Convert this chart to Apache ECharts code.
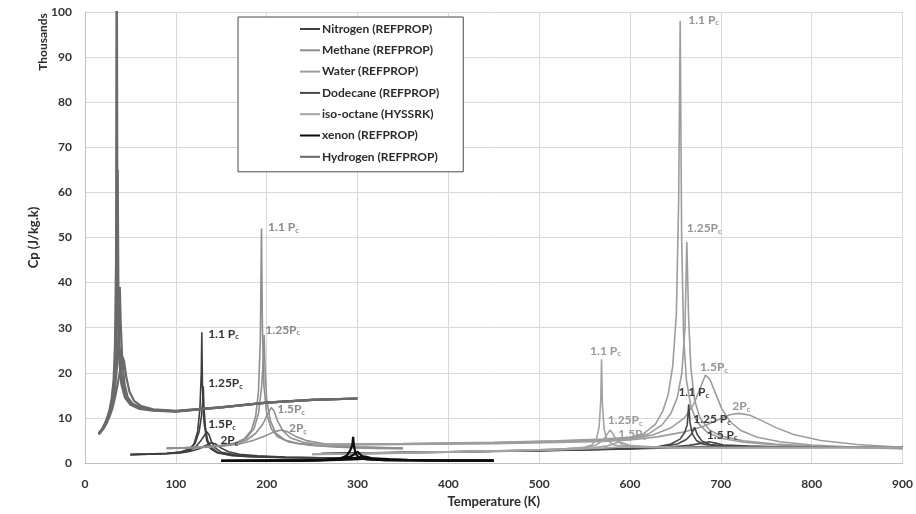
<!DOCTYPE html>
<html>
<head>
<meta charset="utf-8">
<script src="https://cdn.jsdelivr.net/npm/echarts@6/dist/echarts.min.js"></script>
<style>html,body{margin:0;padding:0;background:#fff;}#chart{width:916px;height:514px;}</style>
</head>
<body>
<div id="chart"></div>
<script>
// ---- Data (Temperature K, Cp in thousands J/kg.K) ----
const fluidNames = ['Nitrogen (REFPROP)','Methane (REFPROP)','Water (REFPROP)','Dodecane (REFPROP)','iso-octane (HYSSRK)','xenon (REFPROP)','Hydrogen (REFPROP)'];
const xTicks = [0,100,200,300,400,500,600,700,800,900];
const yTicks = [0,10,20,30,40,50,60,70,80,90,100];

const n2_110 = [[50,1.9],[70,2.0],[90,2.15],[105,2.45],[115,3.1],[120,4.2],[124,7],[126.5,12],[128,20],[128.6,29],[129.3,17],[131,9],[134,5],[138,3.2],[145,2.3],[160,1.7],[180,1.4],[220,1.2],[260,1.12],[300,1.08]];
const n2_125 = [[50,1.88],[70,1.98],[90,2.12],[105,2.4],[115,3],[121,4.3],[125.5,6.8],[128.3,10.5],[129.5,13.5],[130.2,17],[130.9,12.5],[132.5,8],[135,5],[139,3.4],[146,2.4],[160,1.75],[180,1.45],[220,1.22],[260,1.13],[300,1.09]];
const n2_150 = [[50,1.86],[70,1.96],[90,2.1],[105,2.35],[115,2.8],[122,3.6],[127,4.8],[131,6],[134,6.9],[136.5,6.3],[139,4.8],[143,3.4],[150,2.4],[165,1.8],[185,1.5],[220,1.26],[260,1.15],[300,1.1]];
const n2_200 = [[50,1.84],[70,1.94],[90,2.05],[105,2.25],[115,2.55],[125,3.1],[133,3.9],[139,4.5],[144,4.2],[150,3.3],[158,2.5],[170,1.95],[190,1.6],[220,1.33],[260,1.18],[300,1.12]];

const ch4_110 = [[90,3.3],[110,3.4],[130,3.6],[150,3.9],[165,4.4],[175,5.3],[183,7.2],[188,10.5],[191,16],[193,27],[194.3,52],[195.3,30],[197,17],[200,11],[205,7.6],[212,5.8],[225,4.6],[250,3.9],[280,3.5],[320,3.25],[350,3.15]];
const ch4_125 = [[90,3.27],[110,3.37],[130,3.55],[150,3.85],[165,4.3],[177,5.4],[186,7.6],[191,11],[194.5,17],[196.3,23],[197.2,28.4],[198.2,21],[200,14],[204,9.4],[210,6.6],[220,5.1],[235,4.3],[260,3.8],[300,3.4],[350,3.2]];
const ch4_150 = [[90,3.24],[110,3.34],[130,3.5],[150,3.8],[165,4.2],[178,5.1],[188,6.6],[196,8.7],[201,10.8],[205,12.3],[208,11.6],[212,9.3],[218,7.1],[226,5.6],[240,4.6],[260,4],[300,3.5],[350,3.25]];
const ch4_200 = [[90,3.2],[110,3.3],[130,3.45],[150,3.7],[170,4.2],[185,5],[198,6],[208,6.9],[216,7.3],[223,6.9],[232,5.9],[245,4.9],[265,4.2],[300,3.6],[350,3.3]];

const h2o_110 = [[250,4.15],[350,4.3],[450,4.6],[520,4.95],[570,5.3],[600,5.7],[615,6.5],[628,8.6],[636,11.5],[642,15.2],[647,21.5],[651,33],[653.5,58],[655.2,98],[656.8,50],[659,28],[662,18.5],[667,12.5],[674,9],[685,6.8],[700,5.5],[725,4.6],[760,4],[820,3.5],[900,3.15]];
const h2o_125 = [[250,4.1],[350,4.25],[450,4.5],[520,4.85],[570,5.15],[600,5.5],[620,6.4],[635,8.4],[645,11],[652,14.5],[657,20],[660.5,30],[662.5,49],[664.5,32],[667,21],[671,14],[677,10],[687,7.4],[700,6],[725,4.9],[760,4.2],[820,3.6],[900,3.2]];
const h2o_150 = [[250,4.05],[350,4.2],[450,4.4],[520,4.7],[570,5],[600,5.3],[625,6.2],[645,7.8],[660,10],[670,13],[677,16.5],[683,19.5],[688,18.5],[694,15.5],[701,12],[710,9.2],[722,7.2],[740,5.7],[765,4.7],[800,4],[850,3.5],[900,3.25]];
const h2o_200 = [[250,3.95],[350,4.1],[450,4.3],[520,4.55],[570,4.8],[600,5.1],[630,5.8],[660,6.9],[680,8.1],[697,9.6],[710,10.7],[720,11],[732,10.6],[745,9.4],[760,7.9],[780,6.3],[810,5],[850,4.1],[900,3.5]];

const dd_110 = [[260,2.1],[300,2.2],[350,2.35],[400,2.5],[450,2.65],[500,2.8],[550,3],[600,3.25],[630,3.6],[645,4.2],[655,5.3],[660,6.7],[663,8.5],[664.6,13],[666,9],[668.5,6.5],[673,5],[680,4.2],[695,3.8],[730,3.6],[800,3.55],[900,3.6]];
const dd_125 = [[260,2.08],[300,2.18],[350,2.33],[400,2.48],[450,2.63],[500,2.78],[550,2.97],[600,3.2],[635,3.6],[652,4.2],[662,5.2],[668,6.5],[671,7.9],[674,6.3],[679,4.9],[688,4.1],[705,3.75],[740,3.6],[800,3.55],[900,3.58]];
const dd_150 = [[260,2.05],[300,2.15],[350,2.3],[400,2.45],[450,2.6],[500,2.75],[550,2.94],[600,3.15],[640,3.5],[665,3.9],[680,4.4],[687,4.7],[694,4.4],[703,4],[720,3.7],[760,3.58],[900,3.56]];
const dd_200 = [[260,2.02],[300,2.12],[350,2.27],[400,2.42],[450,2.57],[500,2.72],[550,2.9],[600,3.1],[650,3.4],[690,3.7],[712,3.9],[730,3.75],[760,3.6],[900,3.55]];

const io_110 = [[250,1.95],[300,2.1],[350,2.3],[400,2.5],[450,2.7],[500,2.95],[530,3.2],[550,3.5],[558,4],[563,5.3],[566,8],[567.8,14],[568.6,23],[569.6,13],[571.5,7.5],[575,5],[582,4],[595,3.6],[620,3.45],[700,3.4],[800,3.45],[900,3.5]];
const io_125 = [[250,1.93],[300,2.08],[350,2.27],[400,2.47],[450,2.67],[500,2.9],[530,3.15],[550,3.4],[562,3.9],[570,5],[575,6.4],[578,7.3],[581,6.5],[585,5],[592,4],[605,3.6],[630,3.45],[700,3.4],[800,3.45],[900,3.5]];
const io_150 = [[250,1.9],[300,2.05],[350,2.24],[400,2.44],[450,2.63],[500,2.86],[540,3.1],[560,3.35],[575,3.8],[583,4.3],[588,4.7],[593,4.4],[600,3.9],[615,3.55],[650,3.4],[700,3.38],[800,3.42],[900,3.48]];
const io_200 = [[250,1.87],[300,2.02],[350,2.2],[400,2.4],[450,2.6],[500,2.82],[540,3.05],[570,3.3],[595,3.6],[610,3.75],[625,3.6],[650,3.45],[700,3.38],[800,3.4],[900,3.45]];

const xe_110 = [[150,0.5],[200,0.52],[240,0.56],[265,0.7],[280,0.95],[288,1.6],[292,2.8],[294.3,4],[295.2,5.8],[296,3.8],[298,2],[302,1.1],[310,0.8],[330,0.62],[380,0.55],[450,0.52]];
const xe_125 = [[150,0.5],[200,0.52],[240,0.55],[265,0.68],[282,0.9],[292,1.4],[297,2],[300,2.5],[302.5,2],[306,1.3],[313,0.85],[330,0.65],[380,0.55],[450,0.52]];
const xe_150 = [[150,0.5],[200,0.52],[240,0.54],[270,0.68],[290,0.95],[300,1.2],[306,1.45],[310,1.35],[318,0.95],[335,0.68],[380,0.56],[450,0.52]];
const xe_200 = [[150,0.49],[200,0.51],[240,0.53],[270,0.62],[295,0.8],[312,0.95],[322,1.0],[335,0.85],[355,0.68],[390,0.57],[450,0.52]];

const h2_110 = [[15,6.6],[18,7.3],[21,8.4],[24,9.8],[27,11.8],[29.5,14.5],[31.5,18.5],[33,26],[34.2,45],[34.9,125],[35.6,55],[36.4,32],[37.7,23],[40,17.5],[44,14.5],[50,12.9],[60,12],[75,11.6],[100,11.4],[150,12.3],[200,13.4],[250,14],[300,14.3]];
const h2_125 = [[15,6.5],[18,7.2],[21,8.2],[24,9.5],[27,11.3],[30,13.8],[32.5,17.5],[34.4,24],[35.4,38],[36,65],[36.7,40],[38,26],[40.2,19.5],[44,15.3],[50,13.3],[60,12.2],[75,11.7],[100,11.45],[150,12.35],[200,13.4],[250,14],[300,14.3]];
const h2_150 = [[15,6.4],[18,7.1],[21,8],[24,9.2],[27,10.8],[30,13],[33,16.5],[35.5,22],[37.2,30],[38.3,39],[39.3,31],[41,23],[43.5,17.5],[47,14.6],[52,13.2],[60,12.4],[75,11.8],[100,11.5],[150,12.35],[200,13.4],[250,14],[300,14.3]];
const h2_200 = [[15,6.3],[18,7],[21,7.8],[24,8.9],[27,10.3],[30,12],[33,14.5],[36,17.5],[39,21],[41.5,23.5],[43,22.5],[45.5,19],[49,15.8],[54,13.8],[62,12.6],[75,11.9],[100,11.55],[150,12.4],[200,13.4],[250,14],[300,14.3]];

// Pressure annotations [T, Cp, text]
const labelsN2 = [[135,28.6,'1.1 P'],[135,17.7,'1.25P'],[135,8.6,'1.5P'],[148.5,5.0,'2P']];
const labelsCH4 = [[201,52.2,'1.1 P'],[198,29.5,'1.25P'],[211,11.9,'1.5P'],[224,7.7,'2P']];
const labelsH2O = [[663.5,98.3,'1.1 P'],[662,52,'1.25P'],[676.6,21.2,'1.5P'],[712,12.6,'2P']];
const labelsIO = [[555.5,24.9,'1.1 P'],[575,9.4,'1.25P'],[586.5,6.4,'1.5P']];
const labelsDD = [[652.7,15.7,'1.1 P'],[669,9.7,'1.25 P'],[684,6.2,'1.5 P']];

// ---- Styles ----
const fluidStyle = {
  'Nitrogen (REFPROP)': {color:'#3f3f3f', width:1.6},
  'Methane (REFPROP)': {color:'#8f8f8f', width:1.6},
  'Water (REFPROP)': {color:'#9d9d9d', width:1.6},
  'Dodecane (REFPROP)': {color:'#474747', width:1.6},
  'iso-octane (HYSSRK)': {color:'#a3a3a3', width:1.6},
  'xenon (REFPROP)': {color:'#0d0d0d', width:2.2},
  'Hydrogen (REFPROP)': {color:'#6a6a6a', width:2.2}
};
const curves = [
  [fluidNames[0], [n2_110,n2_125,n2_150,n2_200]],
  [fluidNames[1], [ch4_110,ch4_125,ch4_150,ch4_200]],
  [fluidNames[2], [h2o_110,h2o_125,h2o_150,h2o_200]],
  [fluidNames[3], [dd_110,dd_125,dd_150,dd_200]],
  [fluidNames[4], [io_110,io_125,io_150,io_200]],
  [fluidNames[5], [xe_110,xe_125,xe_150,xe_200]],
  [fluidNames[6], [h2_110,h2_125,h2_150,h2_200]]
];
const labelSets = [
  [labelsN2, '#333333'], [labelsCH4, '#8a8a8a'], [labelsH2O, '#949494'],
  [labelsIO, '#9a9a9a'], [labelsDD, '#3a3a3a']
];

const FONT = 'Lato';
const series = [];
curves.forEach(([name, list]) => {
  const st = fluidStyle[name];
  list.forEach(d => {
    series.push({
      type:'line', name, data:d, symbol:'none', showSymbol:false, clip:true,
      itemStyle:{color:st.color}, lineStyle:{color:st.color, width:st.width},
      emphasis:{disabled:true}, silent:true
    });
  });
});
labelSets.forEach(([arr, col], i) => {
  series.push({
    type:'scatter', name:'ann'+i, symbol:'circle', symbolSize:1, silent:true, z:10,
    itemStyle:{color:'rgba(255,255,255,0)'},
    data: arr.map(a => ({value:[a[0], a[1]], text:a[2]})),
    label:{
      show:true, position:'right', distance:0, color:col, opacity:1,
      formatter: p => '{m|' + p.data.text + '}{s|c}',
      rich:{
        m:{fontSize:12, fontWeight:'bold', fontFamily:FONT, color:col},
        s:{fontSize:7.5, fontWeight:'bold', fontFamily:FONT, color:col, padding:[6,0,0,0]}
      }
    }
  });
});

const chart = echarts.init(document.getElementById('chart'), null, {renderer:'canvas'});
chart.setOption({
  animation:false,
  backgroundColor:'#ffffff',
  textStyle:{fontFamily:FONT},
  grid:{left:85, right:13, top:12, bottom:51, containLabel:false},
  legend:{
    data: fluidNames.map(n => ({name:n, itemStyle:{color:fluidStyle[n].color}})),
    orient:'vertical', left:238, top:17,
    padding:[5,24,8,62], itemGap:7.3,
    itemWidth:20, itemHeight:2, icon:'rect',
    backgroundColor:'#ffffff', borderColor:'#4a4a4a', borderWidth:1, borderRadius:0,
    textStyle:{fontFamily:FONT, fontSize:12, fontWeight:'bold', color:'#2b2b2b', lineHeight:14, padding:[0,0,0,-3]},
    selectedMode:false
  },
  xAxis:{
    type:'value', min:xTicks[0], max:xTicks[xTicks.length-1], interval:100,
    name:'Temperature (K)', nameLocation:'middle', nameGap:31,
    nameTextStyle:{fontFamily:FONT, fontSize:13, fontWeight:'bold', color:'#2b2b2b'},
    axisLine:{show:true, lineStyle:{color:'#bfbfbf', width:1}},
    axisTick:{show:false},
    axisLabel:{margin:15, fontFamily:FONT, fontSize:12, fontWeight:'bold', color:'#333333'},
    splitLine:{show:true, lineStyle:{color:'#d9d9d9', width:1}}
  },
  yAxis:{
    type:'value', min:yTicks[0], max:yTicks[yTicks.length-1], interval:10,
    name:'Cp (J/kg.k)', nameLocation:'middle', nameGap:36, nameRotate:90,
    nameTextStyle:{fontFamily:FONT, fontSize:13, fontWeight:'bold', color:'#2b2b2b'},
    axisLine:{show:true, lineStyle:{color:'#bfbfbf', width:1}},
    axisTick:{show:false},
    axisLabel:{margin:13, fontFamily:FONT, fontSize:12, fontWeight:'bold', color:'#333333'},
    splitLine:{show:true, lineStyle:{color:'#d9d9d9', width:1}}
  },
  graphic:[{
    type:'text', x:43, y:42, rotation:Math.PI/2, silent:true,
    style:{text:'Thousands', fontFamily:FONT, fontSize:12, fontWeight:'bold', fill:'#2b2b2b', align:'center', verticalAlign:'middle'}
  }],
  series
});
</script>
</body>
</html>
